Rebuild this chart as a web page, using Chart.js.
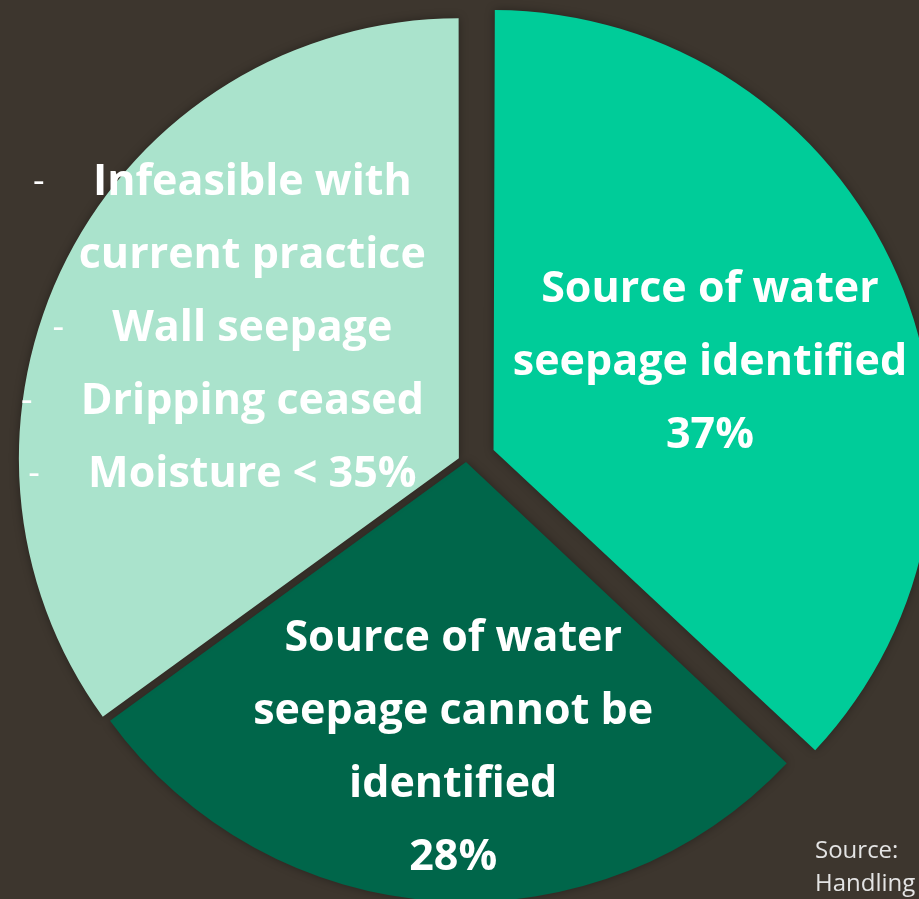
<!DOCTYPE html>
<html>
<head>
<meta charset="utf-8">
<title>Water seepage cases</title>
<script src="https://cdn.jsdelivr.net/npm/chart.js@4.4.1/dist/chart.umd.min.js"></script>
<style>
    html, body {
        margin: 0;
        padding: 0;
        width: 919px;
        height: 899px;
        overflow: hidden;
        background: #3d362e;
    }
    #wrap {
        position: absolute;
        left: 0;
        top: 0;
        width: 932px;
        height: 924px;
    }
    .source {
        position: absolute;
        left: 815px;
        top: 832px;
        color: #e4e4e4;
        font: 24px "Open Sans", sans-serif;
        line-height: 33px;
        white-space: nowrap;
        z-index: 2;
    }
</style>
</head>
<body>
<div id="wrap"><canvas id="seepageChart"></canvas></div>
<div class="source">Source:<br>Handling</div>

<script>
// Kategori dan nilai (persen)
const categories = [
    'Source of water seepage identified',
    'Source of water seepage cannot be identified',
    'Infeasible / wall seepage / dripping ceased / moisture < 35%'
];
const shares = [37, 28, 35];

// Teks label di dalam tiap irisan
const labelLines = [
    ['Source of water', 'seepage identified'],
    ['Source of water', 'seepage cannot be', 'identified'],
    ['Infeasible with', 'current practice', 'Wall seepage', 'Dripping ceased', 'Moisture < 35%']
];
const bulletLines = [true, false, true, true, true];
const showPercent = [true, true, false];

// Gaya irisan
const sliceColors = ['#00cc99', '#00664a', '#aae3cc'];
const sliceOffsets = [30, 0, 8];   // pergeseran irisan dalam piksel
const PIE_RADIUS = 440;

// Posisi label: pecahan sudut di dalam irisan dan pecahan jari-jari
const labelAngleFrac = [0.505, 0.49, 0.544];
const labelRadiusFrac = [0.533, 0.644, 0.558];

const FONT = '"Open Sans", "Noto Sans", sans-serif';
const LINE_HEIGHT = 73;

// Chart.js v4 menggeser arc sebesar offset/4 dan menambah jari-jarinya
// sebesar offset/4 * (1 - sin(circumference)); tambahan itu dikurangi lagi
const keepRadius = {
    id: 'keepRadius',
    afterDatasetUpdate(chart, args) {
        const arcs = chart.getDatasetMeta(args.index).data;
        arcs.forEach((arc, i) => {
            const fix = 1 - Math.sin(Math.min(Math.PI, arc.circumference || 0));
            arc.outerRadius = PIE_RADIUS - sliceOffsets[i] * fix;
        });
    }
};

// Plugin untuk menulis label di atas irisan
const sliceLabels = {
    id: 'sliceLabels',
    afterDatasetsDraw(chart) {
        const ctx = chart.ctx;
        const arcs = chart.getDatasetMeta(0).data;
        ctx.save();
        ctx.fillStyle = '#ffffff';
        ctx.textBaseline = 'middle';
        arcs.forEach((arc, i) => {
            const ang = arc.startAngle + (arc.endAngle - arc.startAngle) * labelAngleFrac[i];
            const r = PIE_RADIUS * labelRadiusFrac[i] + sliceOffsets[i];
            const cx = arc.x + Math.cos(ang) * r;
            const cy = arc.y + Math.sin(ang) * r + 3;

            const lines = labelLines[i].slice();
            if (showPercent[i]) lines.push(shares[i] + '%');
            const top = cy - (lines.length - 1) * LINE_HEIGHT / 2;

            lines.forEach((txt, j) => {
                const y = top + j * LINE_HEIGHT;
                ctx.font = 'bold 43px ' + FONT;
                ctx.textAlign = 'center';
                ctx.fillText(txt, cx, y);
                // tanda strip untuk daftar di irisan ketiga
                if (i === 2 && bulletLines[j]) {
                    const w = ctx.measureText(txt).width;
                    ctx.font = '36px ' + FONT;
                    ctx.fillText('-', cx - w / 2 - 54, y);
                }
            });
        });
        ctx.restore();
    }
};

// Bayangan halus di sekitar irisan
const sliceShadow = {
    id: 'sliceShadow',
    beforeDatasetsDraw(chart) {
        const ctx = chart.ctx;
        ctx.save();
        ctx.shadowColor = 'rgba(0, 0, 0, 0.35)';
        ctx.shadowBlur = 10;
    },
    afterDatasetsDraw(chart) {
        chart.ctx.restore();
    }
};

new Chart(document.getElementById('seepageChart'), {
    type: 'pie',
    data: {
        labels: categories,
        datasets: [{
            data: shares,
            backgroundColor: sliceColors,
            borderWidth: 0,
            offset: sliceOffsets.map(o => o * 4)
        }]
    },
    options: {
        responsive: true,
        maintainAspectRatio: false,
        animation: false,
        radius: PIE_RADIUS,
        layout: { padding: 0 },
        plugins: {
            legend: { display: false },
            tooltip: { enabled: false }
        }
    },
    plugins: [keepRadius, sliceShadow, sliceLabels]
});
</script>
</body>
</html>
